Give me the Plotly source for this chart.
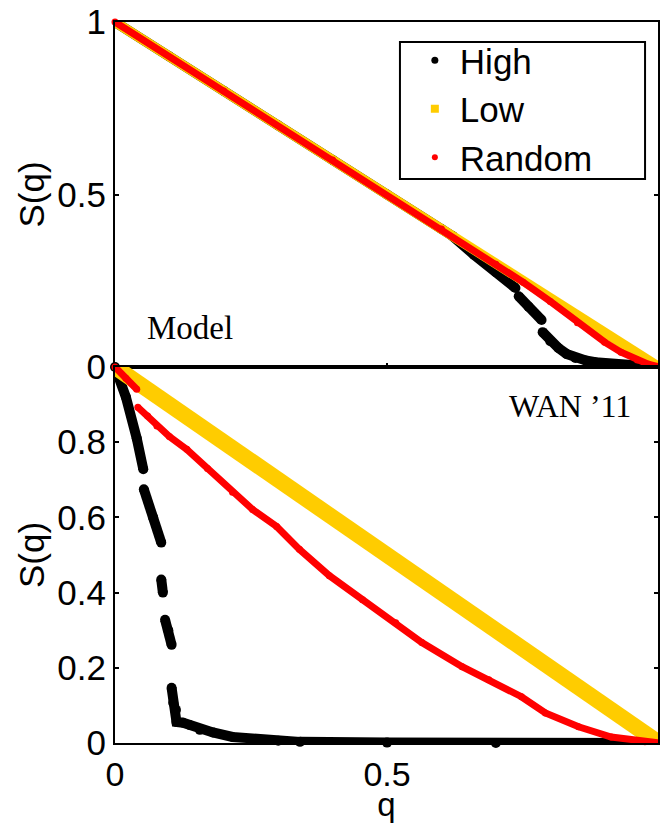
import plotly.graph_objects as go

# ---------------- data ----------------
# Top panel: Model
model_high_q = [0, 0.1, 0.2, 0.3, 0.4, 0.5, 0.6, 0.62, 0.66, 0.70, 0.72, 0.736, None,
                0.742, 0.76, 0.784, None, 0.786, 0.80, 0.815, 0.83, 0.846, 0.865,
                0.883, 0.91, 0.949, 0.98, 1.0]
model_high_s = [1, 0.9, 0.8, 0.7, 0.6, 0.5, 0.4, 0.38, 0.325, 0.275, 0.252, 0.229, None,
                0.205, 0.175, 0.136, None, 0.101, 0.075, 0.055, 0.038, 0.026, 0.019,
                0.014, 0.009, 0.006, 0.002, 0.0]
model_low_q = [0, 0.25, 0.5, 0.75, 0.9, 1.0]
model_low_s = [1, 0.75, 0.5, 0.25, 0.1, 0.0]
model_rand_q = [0, 0.2, 0.4, 0.6, 0.7, 0.75, 0.8, 0.85, 0.9, 0.93, 0.96, 0.98, 1.0]
model_rand_s = [1, 0.8, 0.6, 0.4, 0.298, 0.246, 0.19, 0.128, 0.072, 0.043, 0.02, 0.008, 0.0]

# Bottom panel: WAN '11
wan_high_q = [0, 0.02, 0.04, 0.052, None, 0.053, 0.07, 0.085, None, 0.085, 0.088, None,
              0.092, 0.098, 0.104, None, 0.104, 0.107, 0.112, 0.113, 0.125, 0.137,
              0.156, 0.18, 0.216, 0.26, 0.3, 0.34, 0.5, 0.7, 1.0]
wan_high_s = [1, 0.92, 0.81, 0.728, None, 0.675, 0.60, 0.533, None, 0.435, 0.40, None,
              0.328, 0.30, 0.261, None, 0.147, 0.107, 0.088, 0.056, 0.054, 0.048,
              0.035, 0.028, 0.016, 0.01, 0.006, 0.003, 0.001, 0.0, 0.0]
wan_low_q = [0, 0.5, 1.0]
wan_low_s = [1, 0.5, 0.0]
wan_rand_q = [0, 0.02, 0.04, None, 0.042, 0.06, 0.077, 0.10, 0.132, 0.17, 0.216, 0.253,
              0.297, 0.339, 0.394, 0.455, 0.516, 0.564, 0.638, 0.687, 0.747, 0.791,
              0.852, 0.912, 0.974, 1.0]
wan_rand_s = [1, 0.97, 0.941, None, 0.893, 0.87, 0.843, 0.815, 0.781, 0.73, 0.667, 0.621,
              0.576, 0.515, 0.445, 0.381, 0.320, 0.267, 0.203, 0.168, 0.123, 0.080,
              0.043, 0.016, 0.003, 0.0]

series_names = ["High", "Low", "Random"]
x_ticks = [0, 0.5, 1]
x_ticktext = ["0", "0.5", "1"]
top_yticks = [0, 0.5, 1]
top_yticktext = ["0", "0.5", "1"]
bot_yticks = [0, 0.2, 0.4, 0.6, 0.8]
bot_yticktext = ["0", "0.2", "0.4", "0.6", "0.8"]

BLACK = "#000000"
YELLOW = "#FFCC00"
RED = "#FF0000"
FONT = "Liberation Sans"
FS = 35

fig = go.Figure()

def curve(q, s, color, width, xa, ya, markers=True, clip=False):
    fig.add_trace(go.Scatter(
        x=q, y=s, xaxis=xa, yaxis=ya,
        mode="lines+markers" if markers else "lines",
        line=dict(color=color, width=width),
        marker=dict(color=color, size=width, line=dict(width=0)),
        cliponaxis=clip, showlegend=False, hoverinfo="skip"))

# top panel
curve(model_high_q, model_high_s, BLACK, 10, "x", "y", clip=True)
curve(model_low_q, model_low_s, YELLOW, 10, "x", "y", markers=False)
curve(model_rand_q, model_rand_s, RED, 7, "x", "y")
# bottom panel
curve(wan_high_q, wan_high_s, BLACK, 10, "x2", "y2")
curve(wan_low_q, wan_low_s, YELLOW, 16, "x2", "y2", markers=False)
curve(wan_rand_q, wan_rand_s, RED, 7, "x2", "y2")

# legend entries
for name, col, sym, sz in zip(series_names, [BLACK, YELLOW, RED],
                              ["circle", "square", "circle"], [7, 8, 6]):
    fig.add_trace(go.Scatter(x=[None], y=[None], xaxis="x", yaxis="y", mode="markers",
                             name=name, marker=dict(color=col, symbol=sym, size=sz)))

split = 376 / 721
axis_common = dict(showline=True, linecolor="black", linewidth=2,
                   ticks="inside", ticklen=4, tickwidth=1.5, tickcolor="black",
                   showgrid=False, zeroline=False,
                   tickfont=dict(family=FONT, size=FS, color="black"))

fig.update_layout(
    width=660, height=823,
    margin=dict(l=115, r=0, t=22, b=80),
    paper_bgcolor="white", plot_bgcolor="white",
    font=dict(family=FONT, size=FS, color="black"),
    xaxis=dict(axis_common, domain=[0, 1], range=[0, 0.998], anchor="y", mirror=True,
               tickvals=x_ticks, ticktext=x_ticktext, showticklabels=False),
    yaxis=dict(axis_common, domain=[split, 1], range=[0, 1], anchor="x", mirror="ticks",
               tickvals=top_yticks, ticktext=top_yticktext,
               title=dict(text="S(q)", font=dict(family=FONT, size=FS), standoff=2)),
    xaxis2=dict(axis_common, domain=[0, 1], range=[0, 0.998], anchor="y2", mirror=True,
                tickvals=x_ticks, ticktext=x_ticktext,
                tickfont=dict(family=FONT, size=34, color="black"),
                title=dict(text="q", font=dict(family=FONT, size=33), standoff=4)),
    yaxis2=dict(axis_common, domain=[0, split], range=[0, 1], anchor="x2", mirror="ticks",
                tickvals=bot_yticks, ticktext=bot_yticktext,
                title=dict(text="S(q)", font=dict(family=FONT, size=FS), standoff=2)),
    legend=dict(x=0.543, y=0.9875, xanchor="left", yanchor="top",
                bgcolor="rgba(0,0,0,0)", borderwidth=0,
                font=dict(family=FONT, size=FS, color="black"),
                itemwidth=40, tracegroupgap=0),
    shapes=[dict(type="rect", xref="paper", yref="paper",
                 x0=(401 - 115) / 545, x1=(647 - 115) / 545,
                 y0=(743 - 179) / 721, y1=(743 - 42) / 721,
                 line=dict(color="black", width=2), fillcolor="rgba(0,0,0,0)",
                 layer="above")],
    annotations=[
        dict(text="Model", xref="x", yref="y", x=0.137, y=0.113, showarrow=False,
             font=dict(family="Liberation Serif", size=33, color="black")),
        dict(text="WAN \u201911", xref="x2", yref="y2", x=0.837, y=0.896, showarrow=False,
             font=dict(family="Liberation Serif", size=32, color="black")),
    ],
)

fig.write_html("out.html")
